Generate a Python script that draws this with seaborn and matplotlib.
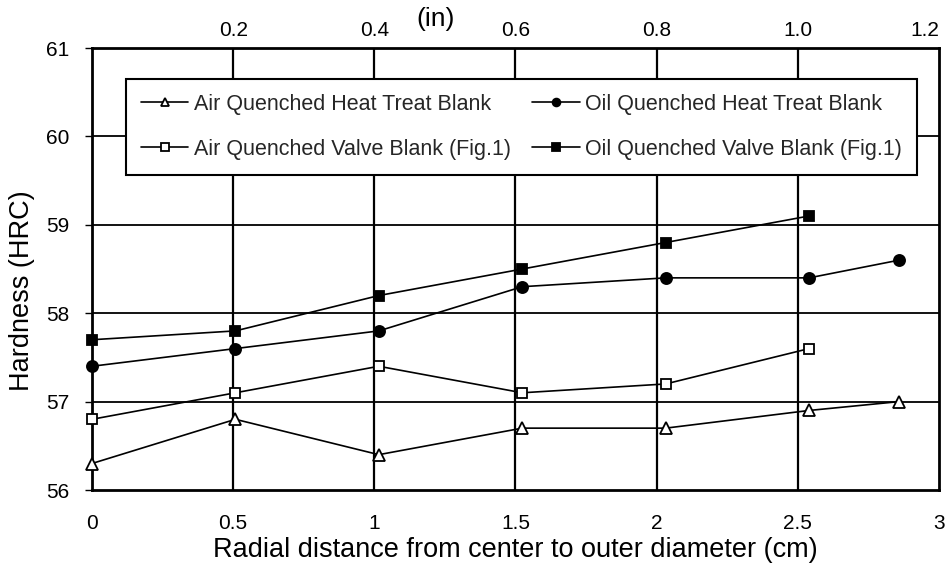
import matplotlib
matplotlib.use("Agg")
import matplotlib.pyplot as plt
import seaborn as sns
import pandas as pd

sns.set_theme(style="white")
plt.rcParams['font.family'] = ['Liberation Sans', 'DejaVu Sans']

# Data (x in cm)
x_all = [0.0, 0.508, 1.016, 1.524, 2.032, 2.54, 2.858]
x_valve = [0.0, 0.508, 1.016, 1.524, 2.032, 2.54]
air_ht = [56.3, 56.8, 56.4, 56.7, 56.7, 56.9, 57.0]
oil_ht = [57.4, 57.6, 57.8, 58.3, 58.4, 58.4, 58.6]
air_valve = [56.8, 57.1, 57.4, 57.1, 57.2, 57.6]
oil_valve = [57.7, 57.8, 58.2, 58.5, 58.8, 59.1]

labels = ["Air Quenched Heat Treat Blank", "Oil Quenched Heat Treat Blank",
          "Air Quenched Valve Blank (Fig.1)", "Oil Quenched Valve Blank (Fig.1)"]
x_ticks = [0, 0.5, 1, 1.5, 2, 2.5, 3]
x_ticklabels = ["0", "0.5", "1", "1.5", "2", "2.5", "3"]
top_ticks = [0.2, 0.4, 0.6, 0.8, 1.0, 1.2]
top_ticklabels = ["0.2", "0.4", "0.6", "0.8", "1.0", "1.2"]
y_ticks = [56, 57, 58, 59, 60, 61]

fig = plt.figure(figsize=(9.5, 5.69), dpi=100)
ax = fig.add_axes([0.0968, 0.1388, 0.8916, 0.7768])

series = [
    (x_all, air_ht, labels[0], "^", "white", 8.5),
    (x_all, oil_ht, labels[1], "o", "black", 8),
    (x_valve, air_valve, labels[2], "s", "white", 7.5),
    (x_valve, oil_valve, labels[3], "s", "black", 7.5),
]
for xs, ys, lab, mk, fc, ms in series:
    sns.lineplot(x=xs, y=ys, ax=ax, color="black", linewidth=1.2, marker=mk,
                 markersize=ms, markerfacecolor=fc, markeredgecolor="black",
                 markeredgewidth=1.3, label=lab, zorder=5, clip_on=False)

ax.set_xlim(0, 3)
ax.set_ylim(56, 61)
ax.set_xticks(x_ticks)
ax.set_xticklabels(x_ticklabels)
ax.set_yticks(y_ticks)
ax.tick_params(axis="both", labelsize=15, colors="black", length=5, width=1,
               direction="out", bottom=False, left=True)
ax.tick_params(axis="y", pad=11)
ax.tick_params(axis="x", pad=12)
for gx in [0.5, 1, 1.5, 2, 2.5]:
    ax.axvline(gx, color="black", linewidth=1.6, zorder=1)
for gy in [57, 58, 59, 60]:
    ax.axhline(gy, color="black", linewidth=1.3, zorder=1)
for s in ax.spines.values():
    s.set_color("black")
    s.set_linewidth(2)

ax.set_xlabel("Radial distance from center to outer diameter (cm)", fontsize=19.5,
              color="black", labelpad=3)
ax.set_ylabel("Hardness (HRC)", fontsize=19.5, color="black")
ax.yaxis.set_label_coords(-0.067, 0.45)

sec = ax.secondary_xaxis("top", functions=(lambda v: v / 2.5, lambda v: v * 2.5))
sec.set_xticks(top_ticks)
sec.set_xticklabels(top_ticklabels)
sec.tick_params(labelsize=15, colors="black", length=0, pad=6)
sec.spines["top"].set_visible(False)
# keep the right-most top label fully inside the figure
sec.get_xticklabels()[-1].set_horizontalalignment("right")
fig.text(436 / 950, 1 - 19 / 569, "(in)", fontsize=19, ha="center", va="center", color="black")

h, l = ax.get_legend_handles_labels()
order = [0, 2, 1, 3]
leg = ax.legend([h[i] for i in order], [l[i] for i in order],
                loc="upper left", bbox_to_anchor=(0.040, 0.717, 0.934, 0.213), mode="expand",
                ncol=2, fontsize=15.5, frameon=True, fancybox=False, handlelength=2.2,
                handletextpad=0.25, borderpad=0.7, labelspacing=1.1, markerscale=0.7,
                borderaxespad=0)
leg.get_frame().set_edgecolor("black")
leg.get_frame().set_linewidth(1.5)
leg.get_frame().set_alpha(1)
leg.set_zorder(10)

fig.savefig("out.png", dpi=100)
